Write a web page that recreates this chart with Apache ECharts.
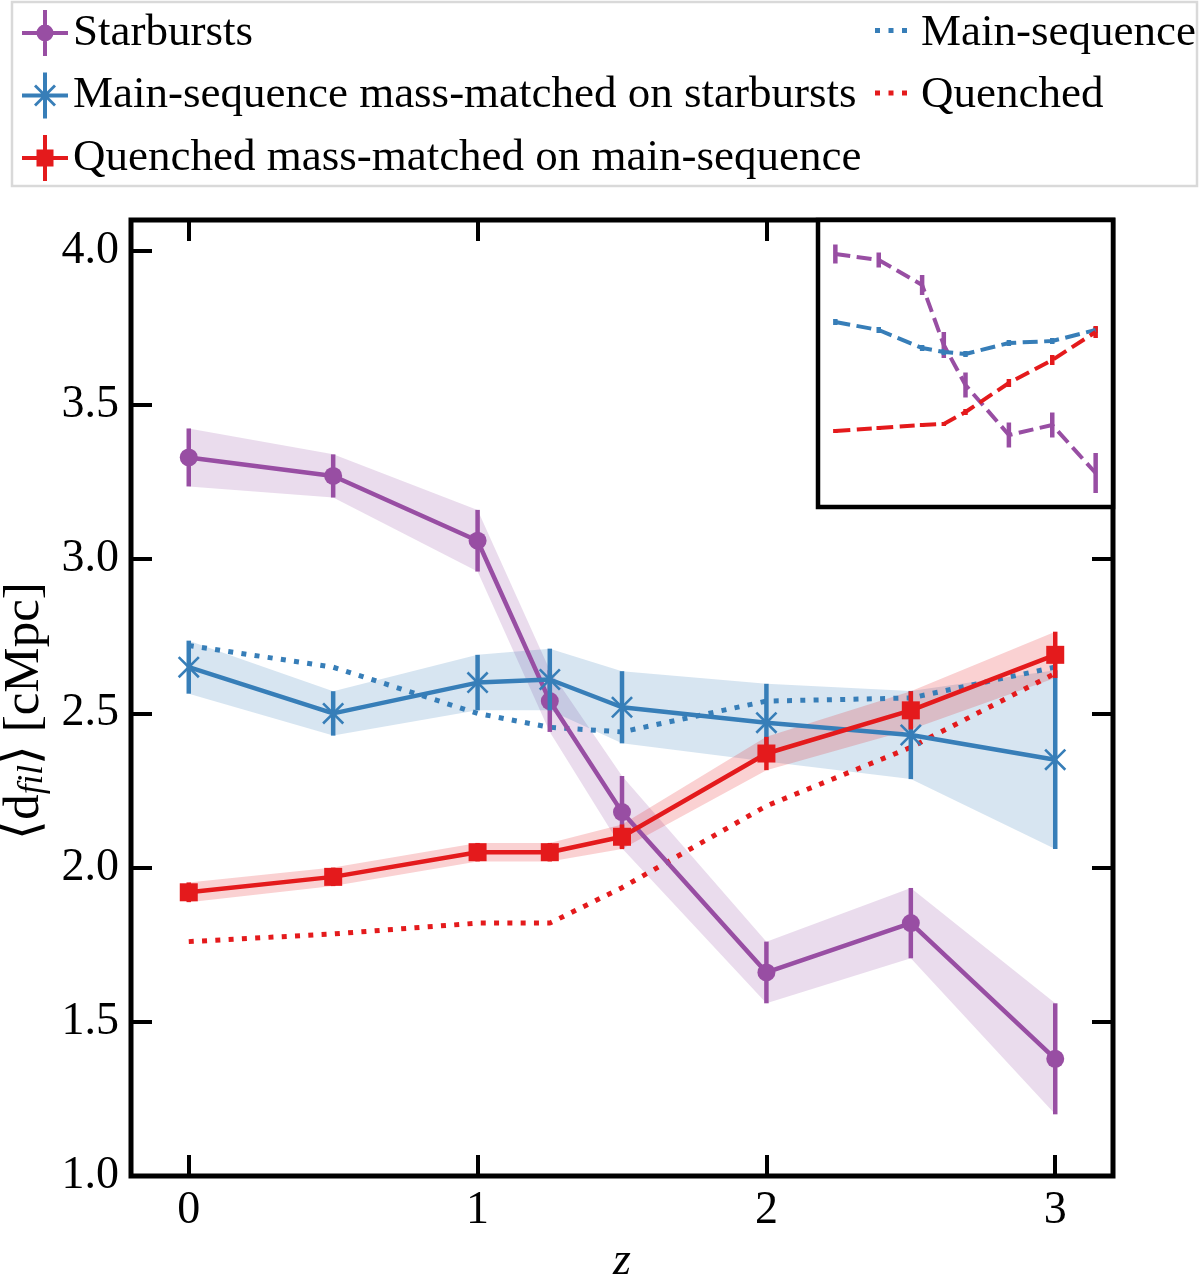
<!DOCTYPE html>
<html>
<head>
<meta charset="utf-8">
<script src="https://cdn.jsdelivr.net/npm/echarts@6/dist/echarts.min.js"></script>
<style>
html, body { margin: 0; padding: 0; background: #fff; }
#chart { width: 1200px; height: 1277px; }
</style>
</head>
<body>
<div id="chart"></div>
<script>
// redshift bins
var zVals = [0, 0.5, 1, 1.25, 1.5, 2, 2.5, 3];
var xTicks = [0, 1, 2, 3];
var yTicks = [1.0, 1.5, 2.0, 2.5, 3.0, 3.5, 4.0];

// main panel, mean distance to filament [cMpc]
var sbMean = [3.33, 3.27, 3.06, 2.54, 2.18, 1.66, 1.82, 1.38];
var sbErr = [0.094, 0.07, 0.10, 0.10, 0.117, 0.10, 0.114, 0.18];
var msMatchedMean = [2.65, 2.50, 2.60, 2.61, 2.52, 2.47, 2.43, 2.35];
var msMatchedErr = [0.086, 0.072, 0.09, 0.10, 0.117, 0.126, 0.143, 0.29];
var qMatchedMean = [1.92, 1.97, 2.05, 2.05, 2.10, 2.37, 2.51, 2.69];
var qMatchedErr = [0.032, 0.03, 0.03, 0.03, 0.04, 0.054, 0.062, 0.075];
var msMean = [2.72, 2.65, 2.50, 2.455, 2.44, 2.54, 2.55, 2.65];
var qMean = [1.76, 1.785, 1.82, 1.82, 1.935, 2.20, 2.39, 2.63];

// inset (no axes shown, arbitrary units)
var insetSb = [2.53, 2.47, 2.22, 1.62, 1.22, 0.72, 0.82, 0.34];
var insetSbErr = [0.095, 0.075, 0.10, 0.13, 0.125, 0.125, 0.125, 0.20];
var insetMs = [1.85, 1.77, 1.59, 1.55, 1.53, 1.64, 1.66, 1.77];
var insetMsErr = [0.03, 0.03, 0.03, 0.03, 0.03, 0.03, 0.03, 0.03];
var insetQ = [0.76, 0.79, 0.82, 0.83, 0.95, 1.24, 1.47, 1.75];
var insetQErr = [0.02, 0.02, 0.02, 0.02, 0.03, 0.04, 0.05, 0.06];

var PURPLE = '#984ea3', BLUE = '#377eb8', RED = '#e41a1c';
var FONT = '"Liberation Serif", serif';

function pts(ys) {
    var out = [];
    for (var i = 0; i < zVals.length; i++) out.push([zVals[i], ys[i]]);
    return out;
}

function bandSeries(mean, err, color) {
    var data = [];
    for (var i = 0; i < zVals.length; i++) data.push([zVals[i], mean[i] - err[i], mean[i] + err[i]]);
    return {
        type: 'custom', silent: true, z: 1,
        data: data,
        renderItem: function (params, api) {
            if (params.dataIndex !== 0) return null;
            var top = [], bot = [];
            for (var i = 0; i < data.length; i++) {
                top.push(api.coord([data[i][0], data[i][2]]));
                bot.unshift(api.coord([data[i][0], data[i][1]]));
            }
            return { type: 'polygon', shape: { points: top.concat(bot) }, style: { fill: color, opacity: 0.2 } };
        }
    };
}

function errSeries(mean, err, color, z, axisIdx) {
    var data = [];
    for (var i = 0; i < zVals.length; i++) data.push([zVals[i], mean[i] - err[i], mean[i] + err[i]]);
    return {
        type: 'custom', silent: true, z: z,
        xAxisIndex: axisIdx, yAxisIndex: axisIdx,
        data: data,
        renderItem: function (params, api) {
            var a = api.coord([api.value(0), api.value(1)]);
            var b = api.coord([api.value(0), api.value(2)]);
            return { type: 'line', shape: { x1: a[0], y1: a[1], x2: b[0], y2: b[1] }, style: { stroke: color, lineWidth: 4.5 } };
        }
    };
}

function lineSeries(name, ys, color, symbol, size, z) {
    return {
        name: name, type: 'line', z: z, data: pts(ys),
        symbol: symbol, symbolSize: size, showSymbol: true,
        itemStyle: { color: color },
        lineStyle: { color: color, width: 4.5 },
        emphasis: { disabled: true }
    };
}

function dottedSeries(name, ys, color) {
    return {
        name: name, type: 'line', z: 2, data: pts(ys), symbol: 'none',
        itemStyle: { color: color },
        lineStyle: { color: color, width: 5, type: [5, 8.3], cap: 'butt' },
        emphasis: { disabled: true }
    };
}

function insetLine(ys, color) {
    return {
        name: 'inset', type: 'line', z: 10, xAxisIndex: 2, yAxisIndex: 2,
        data: pts(ys), symbol: 'none',
        lineStyle: { color: color, width: 4, type: [15, 6.5] },
        emphasis: { disabled: true }
    };
}

var xMarker = 'path://M11,13L13,11L35,33L33,35Z M33,11L35,13L13,35L11,33Z';
var iconBase = 'M0,21L46,21L46,25L0,25Z M21,0L25,0L25,46L21,46Z ';
var iconSb = 'path://' + iconBase + 'M31.5,23A8.5,8.5 0 1,1 14.5,23A8.5,8.5 0 1,1 31.5,23Z';
var iconMsm = 'path://' + iconBase + 'M12,14L14,12L34,32L32,34Z M32,12L34,14L14,34L12,32Z';
var iconQm = 'path://' + iconBase + 'M14.5,14.5L31.5,14.5L31.5,31.5L14.5,31.5Z';
// the two bare points only set the icon box, the dots sit on the right of it
var iconDots = 'path://M0,0L0,0M54,46L54,46M13,18h5v5h-5z M26.5,18h5v5h-5z M40,18h5v5h-5z';

var axisText = { fontFamily: FONT, fontSize: 46, color: '#000' };
var legendText = {
    fontFamily: FONT, fontSize: 45, color: '#000',
    rich: { t: { fontFamily: FONT, fontSize: 45, color: '#000' } }
};
var tickStyle = { show: true, inside: true, length: 21, lineStyle: { color: '#000', width: 4 } };
var noLine = { show: false, onZero: false };

function legendItem(name, icon) {
    return { name: name, icon: icon };
}

var chart = echarts.init(document.getElementById('chart'));
var option = {
    animation: false,
    backgroundColor: '#fff',
    textStyle: { fontFamily: FONT },
    graphic: [{
        type: 'rect', z: -10,
        shape: { x: 12, y: 2, width: 1185, height: 184 },
        style: { fill: '#fff', stroke: '#d9d9d9', lineWidth: 2.5 }
    }],
    legend: [{
        left: 17, top: 5, orient: 'vertical', selectedMode: false,
        itemWidth: 46, itemHeight: 46, itemGap: 16.5,
        itemStyle: { borderWidth: 0 },
        formatter: '{t|{name}}',
        textStyle: legendText,
        data: [
            legendItem('Starbursts', iconSb),
            legendItem('Main-sequence mass-matched on starbursts', iconMsm),
            legendItem('Quenched mass-matched on main-sequence', iconQm)
        ]
    }, {
        left: 857, top: 5, orient: 'vertical', selectedMode: false,
        itemWidth: 54, itemHeight: 46, itemGap: 16.5,
        itemStyle: { borderWidth: 0 },
        formatter: '{t|{name}}',
        textStyle: legendText,
        data: [
            legendItem('Main-sequence', iconDots),
            legendItem('Quenched', iconDots)
        ]
    }],
    grid: [{
        left: 131, right: 87, top: 220, bottom: 101, outerBoundsMode: 'none', containLabel: false,
        show: true, borderColor: '#000', borderWidth: 5, backgroundColor: 'transparent'
    }, {
        left: 818, top: 220, width: 295, height: 287, z: 5, outerBoundsMode: 'none', containLabel: false,
        show: true, borderColor: '#000', borderWidth: 4.5, backgroundColor: '#fff'
    }],
    xAxis: [{
        type: 'value', gridIndex: 0, position: 'bottom', min: -0.2, max: 3.2,
        name: 'z', nameLocation: 'middle', nameGap: 58,
        nameTextStyle: { fontFamily: FONT, fontSize: 46, fontStyle: 'italic', color: '#000' },
        axisLine: noLine, splitLine: { show: false },
        axisTick: Object.assign({ customValues: xTicks }, tickStyle),
        axisLabel: Object.assign({ customValues: xTicks, margin: 12, formatter: function (v) { return String(v); } }, axisText)
    }, {
        type: 'value', gridIndex: 0, position: 'top', min: -0.2, max: 3.2,
        axisLine: noLine, splitLine: { show: false },
        axisTick: Object.assign({ customValues: xTicks }, tickStyle),
        axisLabel: { show: false }
    }, {
        type: 'value', gridIndex: 1, min: -0.2, max: 3.2, show: false
    }],
    yAxis: [{
        type: 'value', gridIndex: 0, position: 'left', min: 1.0, max: 4.1,
        name: '⟨d{s|fil}⟩ [cMpc]', nameLocation: 'middle', nameGap: 79,
        nameTextStyle: {
            fontFamily: FONT, fontSize: 51, color: '#000', padding: [0, 26, 0, 0],
            rich: { s: { fontFamily: FONT, fontSize: 35, fontStyle: 'italic', color: '#000', verticalAlign: 'bottom', lineHeight: 30 } }
        },
        axisLine: noLine, splitLine: { show: false },
        axisTick: Object.assign({ customValues: yTicks }, tickStyle),
        axisLabel: Object.assign({ customValues: yTicks, margin: 12, formatter: function (v) { return v.toFixed(1); } }, axisText)
    }, {
        type: 'value', gridIndex: 0, position: 'right', min: 1.0, max: 4.1,
        axisLine: noLine, splitLine: { show: false },
        axisTick: Object.assign({ customValues: yTicks }, tickStyle),
        axisLabel: { show: false }
    }, {
        type: 'value', gridIndex: 1, min: 0, max: 2.87, show: false
    }],
    series: [
        bandSeries(sbMean, sbErr, PURPLE),
        bandSeries(msMatchedMean, msMatchedErr, BLUE),
        bandSeries(qMatchedMean, qMatchedErr, RED),
        dottedSeries('Main-sequence', msMean, BLUE),
        dottedSeries('Quenched', qMean, RED),
        errSeries(sbMean, sbErr, PURPLE, 3, 0),
        lineSeries('Starbursts', sbMean, PURPLE, 'circle', 18, 3),
        errSeries(msMatchedMean, msMatchedErr, BLUE, 4, 0),
        lineSeries('Main-sequence mass-matched on starbursts', msMatchedMean, BLUE, xMarker, 22, 4),
        errSeries(qMatchedMean, qMatchedErr, RED, 5, 0),
        lineSeries('Quenched mass-matched on main-sequence', qMatchedMean, RED, 'rect', 18, 5),
        insetLine(insetSb, PURPLE),
        errSeries(insetSb, insetSbErr, PURPLE, 10, 2),
        insetLine(insetMs, BLUE),
        errSeries(insetMs, insetMsErr, BLUE, 10, 2),
        insetLine(insetQ, RED),
        errSeries(insetQ, insetQErr, RED, 10, 2)
    ]
};
chart.setOption(option);
window.addEventListener('resize', function () {
    chart.resize();
});
</script>
</body>
</html>
